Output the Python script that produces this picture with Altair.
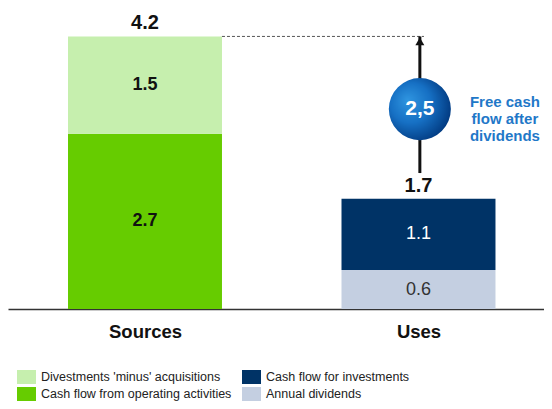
import altair as alt
import pandas as pd

# ---- data ----
categories = ["Sources", "Sources", "Uses", "Uses"]
series = [
    "Cash flow from operating activities",
    "Divestments 'minus' acquisitions",
    "Annual dividends",
    "Cash flow for investments",
]
values = [2.7, 1.5, 0.6, 1.1]
label_colors = ["#111111", "#111111", "#333333", "#ffffff"]
label_weights = ["bold", "bold", "normal", "normal"]

cat_names = ["Sources", "Uses"]
cat_pos = [1, 2]
totals = [4.2, 1.7]

legend_order = [
    "Divestments 'minus' acquisitions",
    "Cash flow from operating activities",
    "Cash flow for investments",
    "Annual dividends",
]
legend_colors = ["#C6EFAE", "#66CC00", "#003366", "#C4CFE1"]

fcf_value = "2,5"
fcf_text = ["Free cash", "flow after", "dividends"]

# ---- tables ----
pos_map = dict(zip(cat_names, cat_pos))
half = 0.2815
rows = []
acc = {}
for c, s, v, lc, lw in zip(categories, series, values, label_colors, label_weights):
    start = acc.get(c, 0.0)
    end = start + v
    acc[c] = end
    p = pos_map[c]
    rows.append(dict(cat=c, series=s, value=v, y0=start, y1=end, mid=(start + end) / 2,
                     x0=p - half, x1=p + half, xc=p, lc=lc, lw=lw, lab=f"{v:.1f}"))
seg = pd.DataFrame(rows)
tot = pd.DataFrame(dict(xc=cat_pos, total=totals, lab=[f"{t:.1f}" for t in totals]))

uses_x = 2.005
arrow = pd.DataFrame(dict(x=[uses_x], y0=[2.095], y1=[totals[0]]))
head = pd.DataFrame(dict(x=[uses_x], y=[4.125]))
circle = pd.DataFrame(dict(x=[uses_x], y=[3.08], lab=[fcf_value]))
dash = pd.DataFrame(dict(x0=[cat_pos[0] + half], x1=[2.02], y=[totals[0]]))
note = pd.DataFrame(dict(x=[2.316], y=[3.19], lab=[fcf_text]))

xs = alt.Scale(domain=[0.4991, 2.4589], nice=False, zero=False)
ys = alt.Scale(domain=[0, 4.638], nice=False, zero=True)
FONT = "Liberation Sans"

label_expr = "datum.value == 1 ? 'Sources' : datum.value == 2 ? 'Uses' : ''"

bars = alt.Chart(seg).mark_bar(stroke=None).encode(
    x=alt.X("x0:Q", scale=xs, axis=alt.Axis(values=cat_pos, labelExpr=label_expr, title=None,
                                            grid=False, ticks=False, domainColor="#333333",
                                            domainWidth=1.5, labelFont=FONT, labelFontSize=18.5,
                                            labelFontWeight="bold", labelColor="#111111",
                                            labelPadding=13)),
    x2="x1:Q",
    y=alt.Y("y0:Q", scale=ys, axis=None),
    y2="y1:Q",
    color=alt.Color("series:N", scale=alt.Scale(domain=legend_order, range=legend_colors),
                    legend=alt.Legend(title=None, orient="none", legendX=11.5, legendY=362,
                                      columns=2, columnPadding=10, rowPadding=3,
                                      symbolType="M-1.36,-1H1.36V1H-1.36Z", symbolSize=196,
                                      symbolStrokeWidth=0, symbolOpacity=1,
                                      labelFont=FONT, labelFontSize=12.5, labelColor="#222222",
                                      labelOffset=7.5, labelLimit=400, padding=0)),
)

def seg_labels(weight):
    return alt.Chart(seg).transform_filter(
        alt.datum.lw == weight
    ).mark_text(font=FONT, fontSize=18, baseline="middle", fontWeight=weight).encode(
        x=alt.X("xc:Q", scale=xs),
        y=alt.Y("mid:Q", scale=ys),
        text="lab:N",
        color=alt.Color("lc:N", scale=None),
    )

tot_text = alt.Chart(tot).mark_text(font=FONT, fontSize=20, fontWeight="bold",
                                    baseline="alphabetic", dy=-7, color="#111111").encode(
    x=alt.X("xc:Q", scale=xs),
    y=alt.Y("total:Q", scale=ys),
    text="lab:N",
)

dash_rule = alt.Chart(dash).mark_rule(color="#555555", strokeDash=[3, 2], strokeWidth=1).encode(
    x=alt.X("x0:Q", scale=xs), x2="x1:Q", y=alt.Y("y:Q", scale=ys)
)

arrow_rule = alt.Chart(arrow).mark_rule(color="#111111", strokeWidth=3).encode(
    x=alt.X("x:Q", scale=xs), y=alt.Y("y0:Q", scale=ys), y2="y1:Q"
)

arrow_head = alt.Chart(head).mark_point(shape="triangle-up", filled=True, size=80,
                                        color="#111111", opacity=1).encode(
    x=alt.X("x:Q", scale=xs), y=alt.Y("y:Q", scale=ys)
)

grad = {
    "gradient": "radial",
    "x1": 0.3, "y1": 0.35, "r1": 0.0,
    "x2": 0.4, "y2": 0.45, "r2": 0.65,
    "stops": [
        {"offset": 0.0, "color": "#2f95e0"},
        {"offset": 0.5, "color": "#1670c4"},
        {"offset": 1.0, "color": "#00357a"},
    ],
}
bubble = alt.Chart(circle).mark_point(shape="circle", filled=True, size=3850, fill=grad,
                                      opacity=1, strokeWidth=0).encode(
    x=alt.X("x:Q", scale=xs), y=alt.Y("y:Q", scale=ys)
)
bubble_text = alt.Chart(circle).mark_text(font=FONT, fontSize=21, fontWeight="bold",
                                          color="#ffffff", baseline="middle").encode(
    x=alt.X("x:Q", scale=xs), y=alt.Y("y:Q", scale=ys), text="lab:N"
)

note_text = alt.Chart(note).mark_text(font=FONT, fontSize=15, fontWeight="bold",
                                      color="#1f78c8", baseline="middle", lineHeight=17).encode(
    x=alt.X("x:Q", scale=xs), y=alt.Y("y:Q", scale=ys), text="lab"
)

chart = alt.layer(
    bars, seg_labels("bold"), seg_labels("normal"), tot_text, dash_rule, arrow_rule,
    arrow_head, bubble, bubble_text, note_text
).properties(
    width=536, height=301,
    autosize="none",
    padding={"left": 0, "top": 0, "right": 0, "bottom": 92},
).configure_view(stroke=None)

chart.save("out.html", embed_options={"renderer": "svg", "actions": False})
